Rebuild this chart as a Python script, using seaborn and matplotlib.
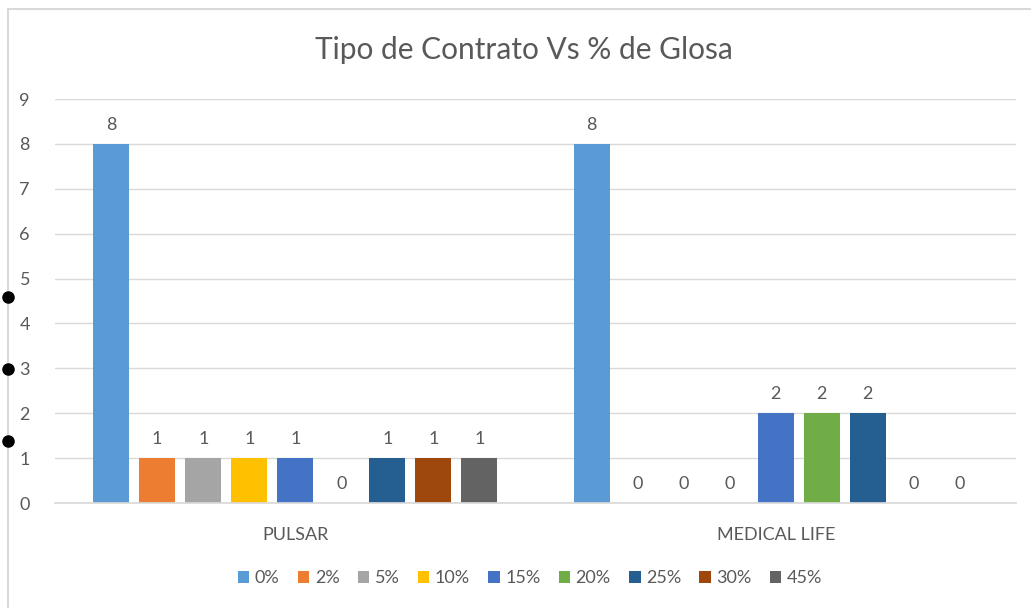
import matplotlib
matplotlib.use("Agg")
import matplotlib.pyplot as plt
import seaborn as sns
import pandas as pd
from matplotlib.patches import Rectangle
from matplotlib.lines import Line2D

categories = ["PULSAR", "MEDICAL LIFE"]
series = ["0%", "2%", "5%", "10%", "15%", "20%", "25%", "30%", "45%"]
pulsar = [8, 1, 1, 1, 1, 0, 1, 1, 1]
medical_life = [8, 0, 0, 0, 2, 2, 2, 0, 0]
colors = ["#5B9BD5", "#ED7D31", "#A5A5A5", "#FFC000", "#4472C4",
          "#70AD47", "#255E91", "#9E480E", "#636363"]
title = "Tipo de Contrato Vs % de Glosa"

rows = []
for cat, vals in zip(categories, [pulsar, medical_life]):
    for s, v in zip(series, vals):
        rows.append({"cat": cat, "serie": s, "val": v})
df = pd.DataFrame(rows)

sns.set_theme(style="white")
plt.rcParams["font.family"] = ["Lato", "DejaVu Sans"]
TXT = "#595959"
FS = 13

fig = plt.figure(figsize=(10.31, 6.08), dpi=100)
ax = fig.add_axes([55/1031, 1-503/608, (1016-55)/1031, (503-99)/608])

sns.barplot(data=df, x="cat", y="val", hue="serie", order=categories,
            hue_order=series, palette=colors, width=0.862, gap=0.22,
            ax=ax, legend=True, saturation=1, edgecolor="none")

for cont in ax.containers:
    ax.bar_label(cont, fmt="%d", padding=8, color=TXT, fontsize=FS)

ax.set_ylim(0, 9)
ax.set_yticks(range(0, 10))
ax.set_xlim(-0.5, 1.5)
ax.yaxis.grid(True, color="#D9D9D9", linewidth=1)
ax.set_axisbelow(True)
for s in ["top", "right", "left"]:
    ax.spines[s].set_visible(False)
ax.spines["bottom"].set_color("#D9D9D9")
ax.tick_params(axis="both", length=0, colors=TXT, labelsize=FS)
ax.tick_params(axis="y", pad=18)
ax.tick_params(axis="x", pad=17)
ax.set_xlabel("")
ax.set_ylabel("")

leg = ax.legend(loc="center", bbox_to_anchor=(530/1031, 1-578/608),
                bbox_transform=fig.transFigure, ncol=9, frameon=False,
                handlelength=0.65, handleheight=0.65, handletextpad=0.3,
                columnspacing=1.0, fontsize=FS)
for t in leg.get_texts():
    t.set_color(TXT)

fig.text(524/1031, 1-50/608, title, ha="center", va="center",
         fontsize=21.5, color=TXT)

fig.add_artist(Rectangle((8/1031, -0.05), 1.1, 1-9/608 + 0.05,
                         transform=fig.transFigure, fill=False,
                         edgecolor="#D9D9D9", linewidth=1.5))
for yy in [297, 369, 441]:
    fig.add_artist(Line2D([8/1031], [1-yy/608], marker="o", markersize=8,
                          color="black", transform=fig.transFigure))

fig.savefig("out.png", dpi=100)
